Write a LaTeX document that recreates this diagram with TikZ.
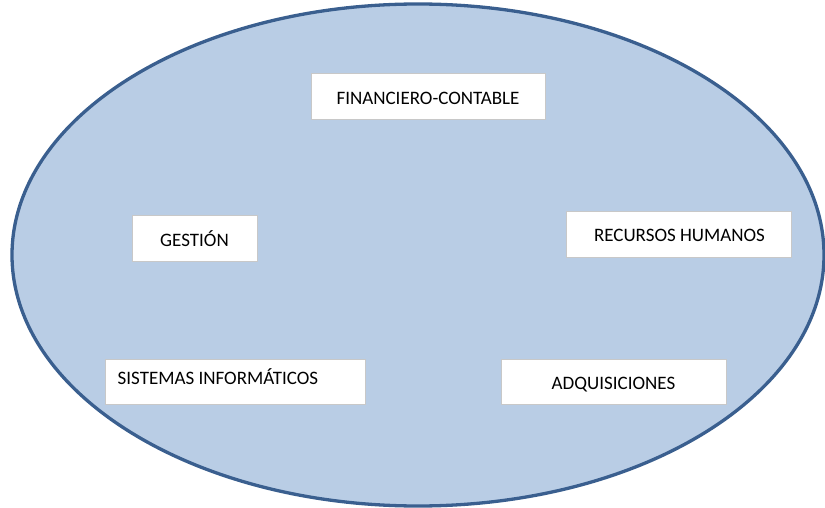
\documentclass[tikz,border=0pt]{standalone}
\usepackage{fontspec}
\setmainfont{Carlito}
\definecolor{ellfill}{HTML}{B9CDE5}
\definecolor{ellline}{HTML}{3A5F8F}
\definecolor{boxline}{HTML}{C8C8C8}
\begin{document}
\begin{tikzpicture}[x=1pt,y=-1pt,
  area/.style={draw=ellline,fill=ellfill,line width=3.3pt},
  unitbox/.style={draw=boxline,fill=white,line width=1pt,rectangle,inner sep=0pt},
  lbl/.style={font=\fontsize{19}{22}\selectfont,inner sep=0pt,text=black}]
\useasboundingbox (0,0) rectangle (825,508);
\draw[area] (418,255) ellipse [x radius=406, y radius=251];
\node[unitbox,minimum width=234pt,minimum height=46pt] (fin) at (428,97) {};
\node[lbl] at ([yshift=-1pt]fin.center) {FINANCIERO-CONTABLE};
\node[unitbox,minimum width=125pt,minimum height=46pt] (ges) at (194.5,238) {};
\node[lbl] at ([yshift=-1pt]ges.center) {GESTIÓN};
\node[unitbox,minimum width=225pt,minimum height=46pt] (rrhh) at (678.5,234) {};
\node[lbl] at ([xshift=1pt,yshift=-1pt]rrhh.center) {RECURSOS HUMANOS};
\node[unitbox,minimum width=260pt,minimum height=45pt] (sis) at (235,382) {};
\node[lbl,anchor=west] at ([xshift=13pt,yshift=5pt]sis.west) {SISTEMAS INFORMÁTICOS};
\node[unitbox,minimum width=225pt,minimum height=45pt] (adq) at (613.5,382) {};
\node[lbl] at ([yshift=-3pt]adq.center) {ADQUISICIONES};
\end{tikzpicture}
\end{document}
